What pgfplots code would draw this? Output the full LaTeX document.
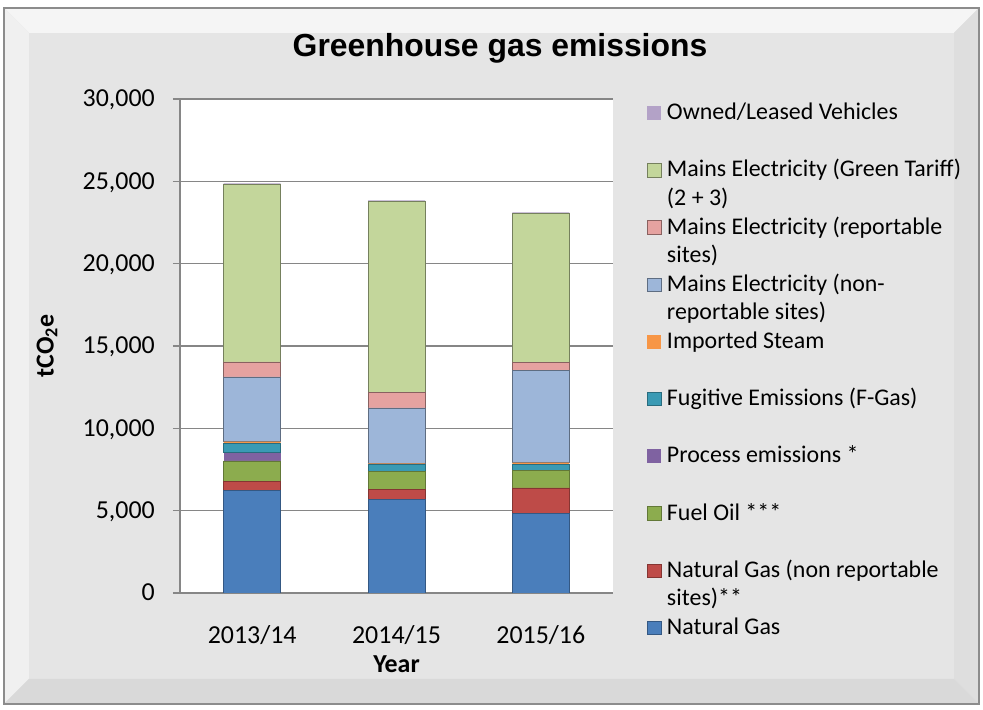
\documentclass[border=0pt]{standalone}
\usepackage{fontspec}
\setmainfont{Carlito}
\newfontfamily\titlefont{Liberation Sans}
\usepackage{pgfplots}
\pgfplotsset{compat=1.18}
\usepackage{pgfplotstable}
\definecolor{cNG}{HTML}{4A7EBB}
\definecolor{cNGnr}{HTML}{BE4B48}
\definecolor{cFO}{HTML}{8CAC4E}
\definecolor{cProc}{HTML}{7F62A1}
\definecolor{cFgas}{HTML}{3A9AB4}
\definecolor{cSteam}{HTML}{F79646}
\definecolor{cMNR}{HTML}{9DB6D9}
\definecolor{cMR}{HTML}{E5A2A0}
\definecolor{cGreen}{HTML}{C3D69B}
\definecolor{cVeh}{HTML}{B3A2C7}
\definecolor{gridc}{HTML}{868686}
\pgfplotstableread{
x NG NGnr FO Proc Fgas Steam MNR MR Green Veh
0 6250 520 1250 500 570 100 3930 910 10800 40
1 5700 580 1100 0 420 70 3370 950 11610 50
2 4820 1560 1050 0 400 80 5610 490 9060 50
}\data
\begin{document}
\begin{tikzpicture}[x=1bp,y=1bp]
% background (image coords (X,Y) -> (X-180, 593-Y))
\fill[white] (-180,593) rectangle (803,-117);
\fill[black!10] (-176,585) rectangle (799,-111);
\fill[black!4] (-176,585) -- (799,585) -- (774,560) -- (-151,560) -- cycle;
\fill[black!6] (-176,585) -- (-151,560) -- (-151,-86) -- (-176,-111) -- cycle;
\fill[black!13] (799,585) -- (774,560) -- (774,-86) -- (799,-111) -- cycle;
\fill[black!15] (-176,-111) -- (-151,-86) -- (774,-86) -- (799,-111) -- cycle;
\draw[black!45, line width=1.2bp] (-176,585) rectangle (799,-111);
\node[anchor=base, inner sep=0pt, font=\titlefont\bfseries\fontsize{32}{38}\selectfont] at (320,536) {Greenhouse gas emissions};
\begin{axis}[
  at={(0,0)}, anchor=south west,
  scale only axis, width=433bp, height=494bp,
  ybar stacked, bar width=57bp,
  xmin=-0.5, xmax=2.5, ymin=0, ymax=30000,
  axis background/.style={fill=white},
  axis x line*=bottom, axis y line*=left,
  axis line style={draw=gridc, line width=1.2bp},
  ymajorgrids, grid style={draw=gridc, line width=1.2bp},
  xtick={0,1,2}, xticklabels={2013/14,2014/15,2015/16},
  major x tick style={draw=none},
  ytick={0,5000,...,30000}, scaled y ticks=false,
  /pgf/number format/1000 sep={,},
  /pgf/number format/assume math mode=true,
  tick align=outside, major tick length=7bp,
  major y tick style={draw=gridc, line width=1.2bp},
  tick label style={font=\fontsize{26}{31}\selectfont},
  yticklabel style={anchor=base east, inner sep=0pt, xshift=-18bp, yshift=-8bp},
  xticklabel style={anchor=base, inner sep=0pt, yshift=-43bp},
  xlabel={Year},
  xlabel style={at={(axis description cs:0.5,0)}, anchor=base, inner sep=0pt, yshift=-80bp, font=\bfseries\fontsize{26}{31}\selectfont},
  ylabel={tCO\textsubscript{2}e},
  ylabel style={at={(axis description cs:-0.307,0.5)}, anchor=center, font=\bfseries\fontsize{26}{31}\selectfont},
  legend image code/.code={\path[#1] (0bp,0bp) rectangle (14bp,13.5bp);},
  reverse legend,
  legend style={at={(axis description cs:1.0778,0.9986)}, anchor=north west, draw=none, fill=none,
    inner sep=0pt, outer sep=0pt, row sep=35.7bp, column sep=5.7bp,
    font=\fontsize{24}{28.7}\selectfont, cells={anchor=base west}, nodes={inner sep=0pt}},
]
\addplot[fill=cNG, draw=cNG!70!black, line width=0.6bp] table[x=x,y=NG]{\data};
\addlegendentry{\parbox[t]{300bp}{\strut Natural Gas}}
\addplot[fill=cNGnr, draw=cNGnr!70!black, line width=0.6bp] table[x=x,y=NGnr]{\data};
\addlegendentry{\parbox[t]{300bp}{\strut Natural Gas (non reportable\\\strut sites)**}}
\addplot[fill=cFO, draw=cFO!70!black, line width=0.6bp] table[x=x,y=FO]{\data};
\addlegendentry{\parbox[t]{300bp}{\strut Fuel Oil ***}}
\addplot[fill=cProc, draw=none] table[x=x,y=Proc]{\data};
\addlegendentry{\parbox[t]{300bp}{\strut Process emissions *}}
\addplot[fill=cFgas, draw=cFgas!70!black, line width=0.6bp] table[x=x,y=Fgas]{\data};
\addlegendentry{\parbox[t]{300bp}{\strut Fugitive Emissions (F-Gas)}}
\addplot[fill=cSteam, draw=none] table[x=x,y=Steam]{\data};
\addlegendentry{\parbox[t]{300bp}{\strut Imported Steam}}
\addplot[fill=cMNR, draw=cMNR!60!black, line width=0.6bp] table[x=x,y=MNR]{\data};
\addlegendentry{\parbox[t]{300bp}{\strut Mains Electricity (non-\\\strut reportable sites)}}
\addplot[fill=cMR, draw=cMR!60!black, line width=0.6bp] table[x=x,y=MR]{\data};
\addlegendentry{\parbox[t]{300bp}{\strut Mains Electricity (reportable\\\strut sites)}}
\addplot[fill=cGreen, draw=cGreen!60!black, line width=0.6bp] table[x=x,y=Green]{\data};
\addlegendentry{\parbox[t]{300bp}{\strut Mains Electricity (Green Tariff)\\\strut (2 + 3)}}
\addplot[fill=cVeh, draw=none] table[x=x,y=Veh]{\data};
\addlegendentry{\parbox[t]{300bp}{\strut Owned/Leased Vehicles}}
\end{axis}
\end{tikzpicture}
\end{document}
